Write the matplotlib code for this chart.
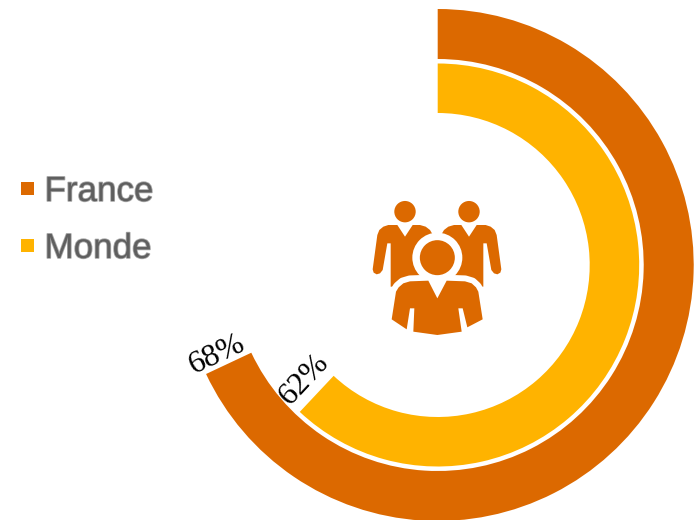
import numpy as np
import matplotlib
matplotlib.use("Agg")
from matplotlib import pyplot as plt
from matplotlib import patheffects as pe
from matplotlib.patches import Circle, Polygon, Rectangle

W, H = 698, 520

series = ["France", "Monde"]
values = [68, 62]
colors = ["#DC6900", "#FFB300"]

CX, CY = 437.7, 265  # centre of the rings, in pixels from the top left
OUTER = [256, 201.5]
BAND = [50, 49.5]


def flip(points, x0=360, y0=190, k=1 / 3):
    # icon outlines are drawn on a 3x grid with y going down
    pts = np.array(points, dtype=float)
    return np.column_stack([x0 + pts[:, 0] * k, H - (y0 + pts[:, 1] * k)])


fig = plt.figure(figsize=(W / 100, H / 100), dpi=100)
ax = fig.add_axes([0, 0, 1, 1])

for value, color, radius, band in zip(values, colors, OUTER, BAND):
    ax.pie([value, 100 - value], colors=[color, "none"], startangle=90, counterclock=False,
           radius=radius, center=(CX, H - CY), wedgeprops={"width": band, "linewidth": 0})

ax.set_xlim(0, W)
ax.set_ylim(0, H)
ax.set_aspect("equal")
ax.axis("off")

# value labels run along the radius at the end of each ring
label_pos = [(217, 355), (304, 379)]
for value, (x, y) in zip(values, label_pos):
    angle = value * 3.6
    ax.text(x, H - y, "{}%".format(value), family="Liberation Serif", fontsize=23, color="black",
            rotation=270 - angle, ha="center", va="center", rotation_mode="anchor")

# legend
legend_y = [188, 245]
for name, color, y in zip(series, colors, legend_y):
    ax.add_patch(Rectangle((21, H - y - 6.5), 13, 13, color=color, lw=0))
    ax.text(44.5, H - y, name, family="Liberation Sans", fontsize=25.2, color="#5F5F5F",
            ha="left", va="center_baseline",
            path_effects=[pe.withStroke(linewidth=1.2, foreground="#A8A8A8")])

# people icon in the middle of the rings
icon = colors[0]
back_body = [(112, 105), (135, 140), (158, 105), (180, 105), (197, 110), (210, 120), (220, 137), (240, 200),
             (240, 290), (92, 290), (92, 160), (82, 160), (68, 240), (60, 250), (50, 253), (41, 248), (38, 238),
             (52, 135), (58, 120), (70, 110), (85, 105)]
front_body = [(205, 272), (232, 325), (260, 272), (315, 274), (335, 280), (348, 292), (355, 305), (368, 388),
              (322, 412), (308, 355), (295, 355), (305, 425), (232, 435), (160, 425), (163, 355), (150, 355),
              (140, 418), (95, 388), (108, 305), (116, 292), (130, 280), (150, 274)]
neck_notch = [(205, 265), (232, 325), (260, 265)]

mirror = [(462 - x, y) for x, y in back_body]
ax.add_patch(Polygon(flip(back_body), closed=True, fc=icon, lw=0))
ax.add_patch(Polygon(flip(mirror), closed=True, fc=icon, lw=0))
for hx in [135, 327]:
    hc = flip([(hx, 65)])[0]
    ax.add_patch(Circle(hc, 10.7, fc=icon, lw=0))

# white halo separates the front figure from the two behind it
head = flip([(232, 203)])[0]
ax.add_patch(Circle(head, 25, fc="white", lw=0))
ax.add_patch(Polygon(flip(front_body), closed=True, fc="white", ec="white", lw=8.5, joinstyle="round"))
ax.add_patch(Polygon(flip(neck_notch), closed=True, fc="white", lw=0))
ax.add_patch(Circle(head, 17.5, fc=icon, lw=0))
ax.add_patch(Polygon(flip(front_body), closed=True, fc=icon, lw=0))

plt.savefig("out.png", dpi=100)
